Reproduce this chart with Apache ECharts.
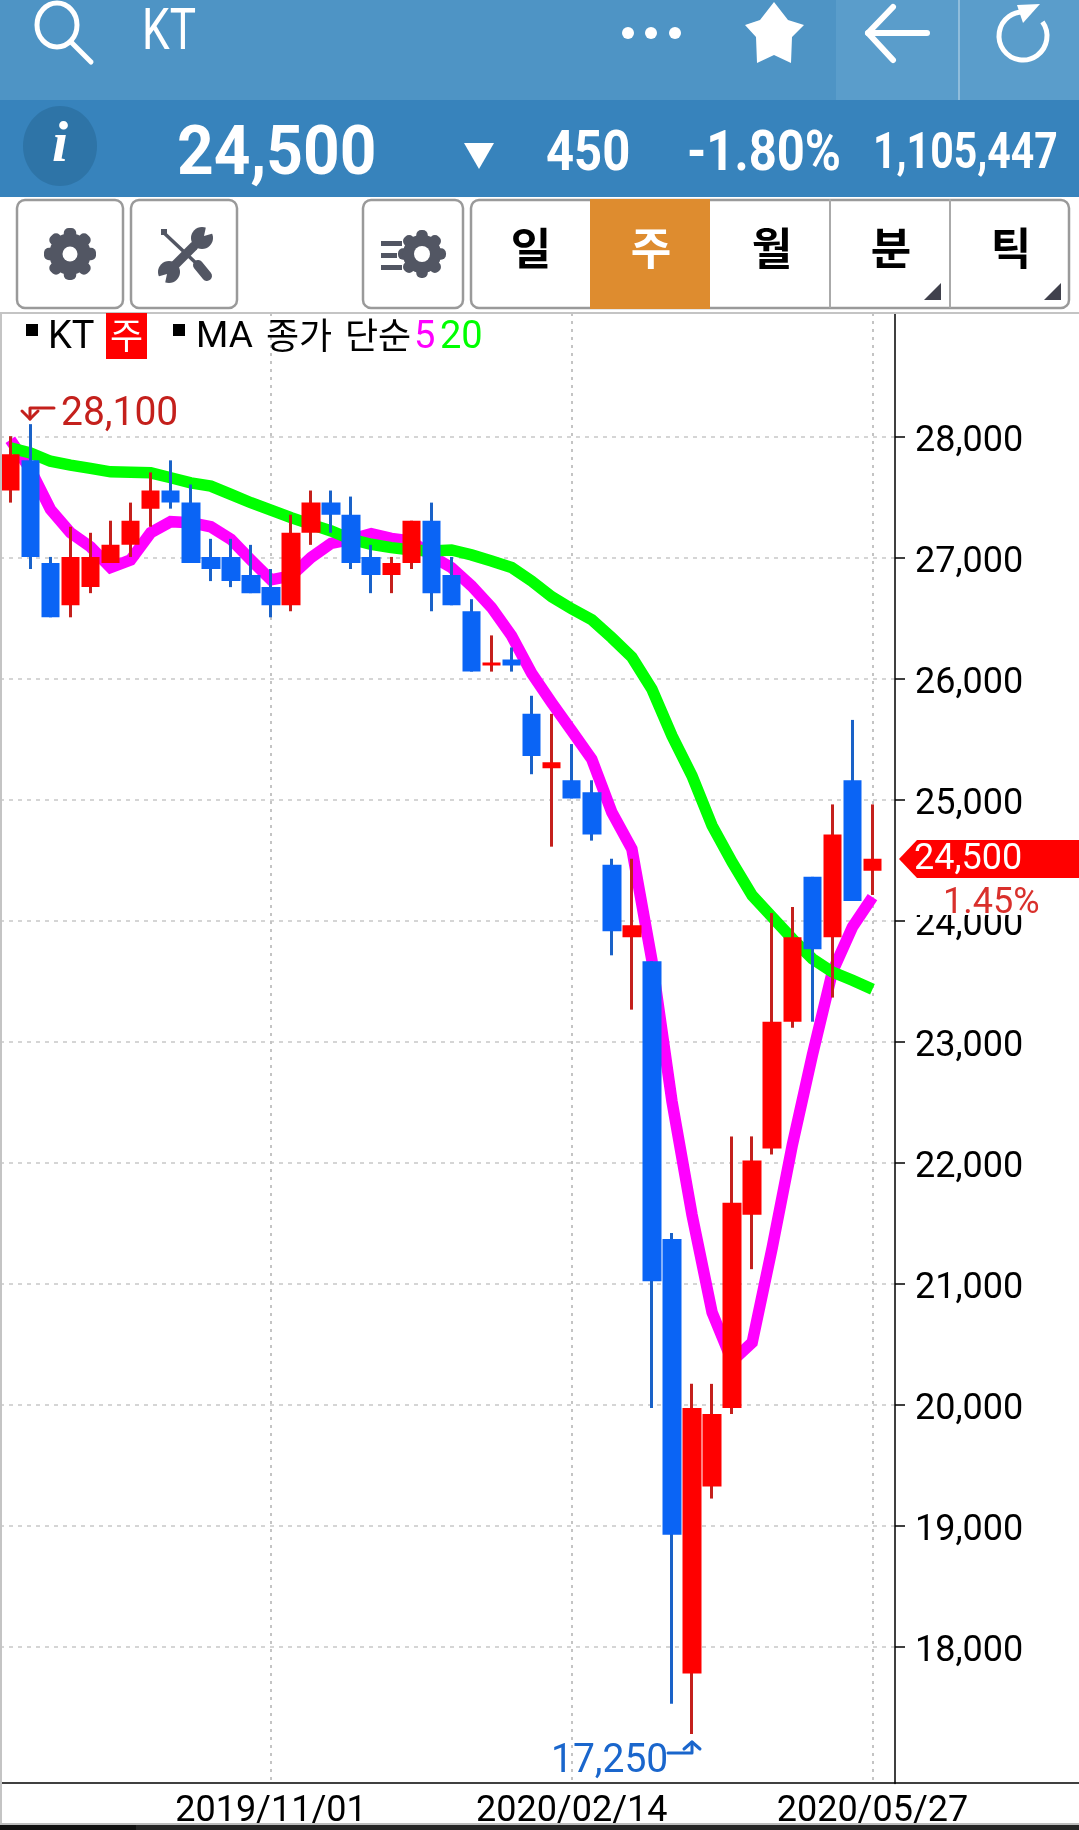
<!DOCTYPE html>
<html>
<head>
<meta charset="UTF-8">
<title>KT</title>
<style>html,body{margin:0;padding:0;background:#fff}#chart{width:1079px;height:1830px}</style>
<script src="https://cdn.jsdelivr.net/npm/echarts@6/dist/echarts.min.js"></script>
</head>
<body>
<div id="chart"></div>
<script>
// weekly bars
var dates = ['2019/08/02','2019/08/09','2019/08/16','2019/08/23','2019/08/30','2019/09/06','2019/09/13','2019/09/20','2019/09/27','2019/10/04','2019/10/11','2019/10/18','2019/10/25','2019/11/01','2019/11/08','2019/11/15','2019/11/22','2019/11/29','2019/12/06','2019/12/13','2019/12/20','2019/12/27','2020/01/03','2020/01/10','2020/01/17','2020/01/24','2020/01/31','2020/02/07','2020/02/14','2020/02/21','2020/02/28','2020/03/06','2020/03/13','2020/03/20','2020/03/27','2020/04/03','2020/04/10','2020/04/17','2020/04/24','2020/05/01','2020/05/08','2020/05/15','2020/05/22','2020/05/27'];
var opens = [27550,27800,26950,26600,26750,26950,27100,27400,27550,27450,27000,27000,26850,26750,26600,27200,27450,27350,27000,26850,26950,27300,26850,26550,26100,26150,25700,25250,25150,25050,24450,23850,23650,21350,17750,19300,19950,21550,22100,23150,24350,23850,25150,24400];
var closes = [27850,27000,26500,27000,27000,27100,27300,27550,27450,26950,26900,26800,26700,26600,27200,27450,27350,26950,26850,26950,27300,26700,26600,26050,26125,26100,25350,25300,25000,24700,23900,23950,21000,18900,19950,19900,21650,22000,23150,23850,23750,24700,24150,24500];
var lows = [27450,26900,26500,26500,26700,26950,27000,27250,27400,26950,26800,26750,26700,26500,26550,27100,27200,26900,26700,26700,26900,26550,26600,26050,26050,26050,25200,24600,25000,24650,23700,23250,19950,17500,17250,19200,19900,21100,22050,23100,23150,23350,24150,24200];
var highs = [28000,28100,27000,27250,27200,27300,27450,27700,27800,27600,27150,27150,27100,26900,27350,27550,27550,27500,27100,27000,27300,27450,27000,26650,26350,26250,25850,25700,25450,25150,24500,24500,23650,21400,20150,20150,22200,22200,24050,24100,24350,24950,25650,24950];
var ma5 = [27970,27725,27394,27200,27083,26912,26975,27200,27292,27284,27250,27146,26975,26810,26843,26995,27113,27146,27193,27154,27132,27008,26912,26760,26581,26347,26036,25793,25559,25325,24884,24581,23658,22490,21550,20742,20338,20492,21280,22127,22873,23562,23934,24182];
var ma20 = [27904,27862,27793,27760,27733,27705,27702,27697,27656,27614,27587,27518,27449,27388,27325,27270,27215,27146,27105,27077,27058,27050,27058,27017,26967,26912,26800,26670,26570,26480,26330,26170,25904,25518,25187,24774,24471,24196,24017,23837,23672,23562,23493,23419];
var yTicks = [18000,19000,20000,21000,22000,23000,24000,25000,26000,27000,28000];
var dateTicks = [13,28,43];
var highLabel = '28,100', lowLabel = '17,250', lastLabel = '24,500', gapLabel = '1.45%';

var C = {
	band1: '#4e94c5', band2: '#3783bc', patch: '#5a9dcb', circle: '#2e74a7', orange: '#de8c2f',
	red: '#ff0000', blue: '#0a64f5', redWick: '#c4201c', blueWick: '#1a62c8', icon: '#525663', border: '#9a9a9a'
};
var num = 'Roboto, sans-serif', kr = '"Noto Sans CJK KR", sans-serif';

var candleData = opens.map(function(o, i) { return [o, closes[i], lows[i], highs[i]]; });
function isDateTick(i) { return dateTicks.indexOf(i) >= 0; }

function txt(x, y, s, size, fill, o) {
	o = o || {};
	return {
		type: 'text', x: x, y: y, z: o.z || 20, scaleX: o.sx || 1, scaleY: o.sy || 1,
		style: {
			text: s, fill: fill, textAlign: o.align || 'left', textVerticalAlign: 'middle', textBaseline: 'middle',
			font: (o.weight || 'normal') + ' ' + size + 'px ' + (o.family || num)
		}
	};
}
function rect(x, y, w, h, fill, o) {
	o = o || {};
	return { type: 'rect', z: o.z || 10, shape: { x: x, y: y, width: w, height: h, r: o.r || 0 }, style: { fill: fill, stroke: o.stroke || null, lineWidth: o.lw || 0 } };
}
function line(x1, y1, x2, y2, col, lw, z) {
	return { type: 'line', z: z || 20, shape: { x1: x1, y1: y1, x2: x2, y2: y2 }, style: { stroke: col, lineWidth: lw, lineCap: 'round' } };
}
function poly(pts, col, lw, z) {
	return { type: 'polyline', z: z || 20, shape: { points: pts }, style: { stroke: col, lineWidth: lw, fill: null, lineCap: 'round', lineJoin: 'round' } };
}
function fillPoly(pts, col, z) {
	return { type: 'polygon', z: z || 20, shape: { points: pts }, style: { fill: col } };
}
function dot(cx, cy, r, col, z) {
	return { type: 'circle', z: z || 20, shape: { cx: cx, cy: cy, r: r }, style: { fill: col } };
}
function gear(cx, cy, r, hole, col) {
	var els = [];
	for (var k = 0; k < 4; k++) {
		els.push({ type: 'rect', z: 20, x: cx, y: cy, rotation: k * Math.PI / 4, shape: { x: -r * 0.24, y: -r, width: r * 0.48, height: r * 2, r: 5 }, style: { fill: col } });
	}
	els.push(dot(cx, cy, r * 0.8, col));
	els.push(dot(cx, cy, hole, '#fff', 21));
	return els;
}

var chrome = [
	rect(0, 0, 1079, 100, C.band1),
	rect(836, 0, 243, 100, C.patch),
	rect(958, 0, 2, 100, '#8fbddc'),
	rect(0, 100, 1079, 97, C.band2),
	// search
	{ type: 'ellipse', z: 20, shape: { cx: 57, cy: 25, rx: 20, ry: 22 }, style: { stroke: '#fff', lineWidth: 5, fill: null } },
	line(72, 43, 91, 62, '#fff', 5),
	txt(142, 34, 'KT', 58, '#fff', { sx: 0.76 }),
	dot(628, 33, 6, '#fff'), dot(651, 33, 6, '#fff'), dot(675, 33, 6, '#fff'),
	fillPoly([[774,2],[788,20],[804,25],[792,37],[791,63],[774,55],[757,63],[756,37],[745,25],[760,20]], '#fff'),
	poly([[893,7],[868,33],[893,60]], '#fff', 6),
	line(868, 33, 927, 33, '#fff', 6),
	{ type: 'arc', z: 20, shape: { cx: 1023, cy: 36, r: 24, startAngle: -Math.PI * 0.2, endAngle: -Math.PI * 0.45 }, style: { stroke: '#fff', lineWidth: 5, fill: null } },
	fillPoly([[1017,5],[1040,4],[1023,23]], '#fff'),
	// price row
	{ type: 'ellipse', z: 15, shape: { cx: 60, cy: 146, rx: 37, ry: 40 }, style: { fill: C.circle } },
	txt(60, 146, 'i', 58, '#fff', { align: 'center', weight: 'italic bold', family: '"Liberation Serif", serif' }),
	txt(177, 157, lastLabel, 64, '#fff', { weight: 'bold', sy: 1.08 }),
	fillPoly([[464,143],[494,143],[479,169]], '#fff'),
	txt(546, 156, '450', 49, '#fff', { weight: 'bold', sy: 1.12 }),
	txt(687, 156, '-1.80%', 49, '#fff', { weight: 'bold', sy: 1.12 }),
	txt(873, 156, '1,105,447', 41, '#fff', { weight: 'bold', sy: 1.2 }),
	// toolbar
	rect(17, 200, 106, 108, '#fff', { stroke: C.border, lw: 2.5, r: 8 }),
	rect(131, 200, 106, 108, '#fff', { stroke: C.border, lw: 2.5, r: 8 }),
	rect(363, 200, 100, 108, '#fff', { stroke: C.border, lw: 2.5, r: 8 }),
	rect(471, 200, 598, 108, '#fff', { stroke: C.border, lw: 2.5, r: 8 }),
	rect(590, 199, 120, 110, C.orange, { z: 11 }),
	line(830, 200, 830, 307, '#aaa', 2, 12),
	line(950, 200, 950, 307, '#aaa', 2, 12),
	txt(531, 248, '일', 44, '#000', { align: 'center', weight: 'bold', family: kr }),
	txt(651, 248, '주', 44, '#fff', { align: 'center', weight: 'bold', family: kr }),
	txt(772, 248, '월', 44, '#000', { align: 'center', weight: 'bold', family: kr }),
	txt(891, 248, '분', 44, '#000', { align: 'center', weight: 'bold', family: kr }),
	txt(1011, 248, '틱', 44, '#000', { align: 'center', weight: 'bold', family: kr }),
	fillPoly([[941,283],[941,300],[924,300]], '#40414c'),
	fillPoly([[1061,283],[1061,300],[1044,300]], '#40414c'),
	// screwdriver
	line(163, 232, 197, 264, C.icon, 3.5),
	line(198, 265, 207, 276, C.icon, 10),
	rect(161, 229, 6, 6, C.icon, { z: 20 }),
	// wrench
	line(194, 246, 174, 266, C.icon, 9),
	dot(202, 238, 11, C.icon), dot(169, 272, 11, C.icon),
	fillPoly([[204,236],[207,222],[218,232]], '#fff', 21),
	fillPoly([[167,274],[164,288],[153,278]], '#fff', 21),
	// settings list bars
	rect(381, 241, 21, 5, C.icon, { z: 20 }),
	rect(381, 253, 16, 5, C.icon, { z: 20 }),
	rect(381, 265, 21, 5, C.icon, { z: 20 }),
	// frame
	rect(0, 312, 1079, 2, '#c4c4c4', { z: 9 }),
	rect(0, 313, 2, 1512, '#c4c4c4', { z: 9 }),
	line(0, 1783, 1079, 1783, '#000', 1.5, 8),
	rect(0, 1823, 1079, 3, '#bdbdbd', { z: 9 }),
	rect(0, 1825, 136, 5, '#111', { z: 9 }),
	rect(136, 1825, 943, 5, '#262626', { z: 9 }),
	// legend
	rect(26, 324, 12, 12, '#000', { z: 20 }),
	txt(48, 338, 'KT', 38, '#000'),
	rect(106, 313, 41, 46, C.red, { z: 20 }),
	txt(126.5, 335, '주', 36, '#fff', { align: 'center', family: kr, z: 21 }),
	rect(173, 324, 12, 12, '#000', { z: 20 }),
	txt(196, 338, 'MA', 37, '#000'),
	txt(266, 335, '종가', 36, '#000', { family: kr }),
	txt(345, 335, '단순', 36, '#000', { family: kr }),
	txt(414, 338, '5', 38, '#ff00ff'),
	txt(440, 338, '20', 38, '#00ff00'),
	// high / low notes
	txt(61, 415, highLabel, 39, '#c4201c', { sy: 1.05 }),
	poly([[54,408],[30,408],[30,419]], '#c4201c', 3),
	poly([[22,411],[30,419],[38,411]], '#c4201c', 3),
	txt(551, 1762, lowLabel, 39, '#1a66cc', { sy: 1.05 }),
	poly([[668,1753],[692,1753],[692,1742]], '#1a66cc', 3),
	poly([[684,1749],[692,1742],[700,1749]], '#1a66cc', 3),
	// last price tag
	fillPoly([[899,859],[917,840],[1079,840],[1079,878],[917,878]], C.red, 30),
	txt(914, 860, lastLabel, 36, '#fff', { z: 31 }),
	rect(898, 878, 181, 37, '#fff', { z: 29 }),
	txt(943, 904, gapLabel, 36, '#d9302c', { z: 31 })
].concat(gear(70, 254, 26, 7.5, C.icon), gear(422, 254, 24, 8, C.icon));

var yMax = 28000 + (436.5 - 313) / 0.121;
var yMin = 28000 - (1783.4 - 436.5) / 0.121;
var chart = echarts.init(document.getElementById('chart'));
chart.setOption({
	animation: false,
	grid: [
		{ left: 0, top: 313, width: 895, height: 1470.4 },
		{ left: 0.3, top: 313, width: 882.2, height: 1470.4 }
	],
	xAxis: [
		{ gridIndex: 0, type: 'value', min: 0, max: 1, show: false },
		{
			gridIndex: 1, type: 'category', data: dates, boundaryGap: true,
			axisLine: { show: false },
			axisTick: { alignWithLabel: true, interval: function(i) { return isDateTick(i); }, length: 8, lineStyle: { color: '#000', width: 2 } },
			axisLabel: {
				interval: function(i) { return isDateTick(i); }, color: '#000', fontFamily: num, fontSize: 36, margin: 14, hideOverlap: false,
				formatter: function(v) { return v; }
			},
			splitLine: { show: true, alignWithLabel: true, interval: function(i) { return isDateTick(i); }, lineStyle: { color: '#c4c4c4', type: [3, 5], width: 2 } }
		}
	],
	yAxis: [
		{
			gridIndex: 0, type: 'value', position: 'right', min: yMin, max: yMax,
			axisLine: { show: true, onZero: false, lineStyle: { color: '#000', width: 1.5 } },
			axisTick: { show: true, customValues: yTicks, length: 10, lineStyle: { color: '#000', width: 1.5 } },
			axisLabel: {
				customValues: yTicks, color: '#000', fontFamily: num, fontSize: 36, margin: 20, verticalAlign: 'top', lineHeight: 11,
				formatter: function(v) { return echarts.format.addCommas(v); }
			},
			splitLine: { show: true, lineStyle: { color: '#c8c8c8', type: [4, 5], width: 1.5 } }
		},
		{ gridIndex: 1, type: 'value', position: 'right', min: yMin, max: yMax, show: false }
	],
	series: [
		{ name: 'MA5', type: 'line', xAxisIndex: 1, yAxisIndex: 1, data: ma5, symbol: 'none', z: 2, lineStyle: { color: '#ff00ff', width: 11.5, join: 'miter' } },
		{ name: 'MA20', type: 'line', xAxisIndex: 1, yAxisIndex: 1, data: ma20, symbol: 'none', z: 3, lineStyle: { color: '#00ff00', width: 11.5, join: 'miter' } },
		// wicks are darker than the bodies, so they get their own thin pass
		{ name: 'wick', type: 'candlestick', xAxisIndex: 1, yAxisIndex: 1, data: candleData, barWidth: 1, z: 4, itemStyle: { color: C.redWick, color0: C.blueWick, borderColor: C.redWick, borderColor0: C.blueWick, borderWidth: 3 } },
		{ name: 'body', type: 'candlestick', xAxisIndex: 1, yAxisIndex: 1, data: candleData, barWidth: 19, z: 5, itemStyle: { color: C.red, color0: C.blue, borderColor: C.red, borderColor0: C.blue, borderWidth: 0 } }
	],
	graphic: { elements: chrome }
});
</script>
</body>
</html>
